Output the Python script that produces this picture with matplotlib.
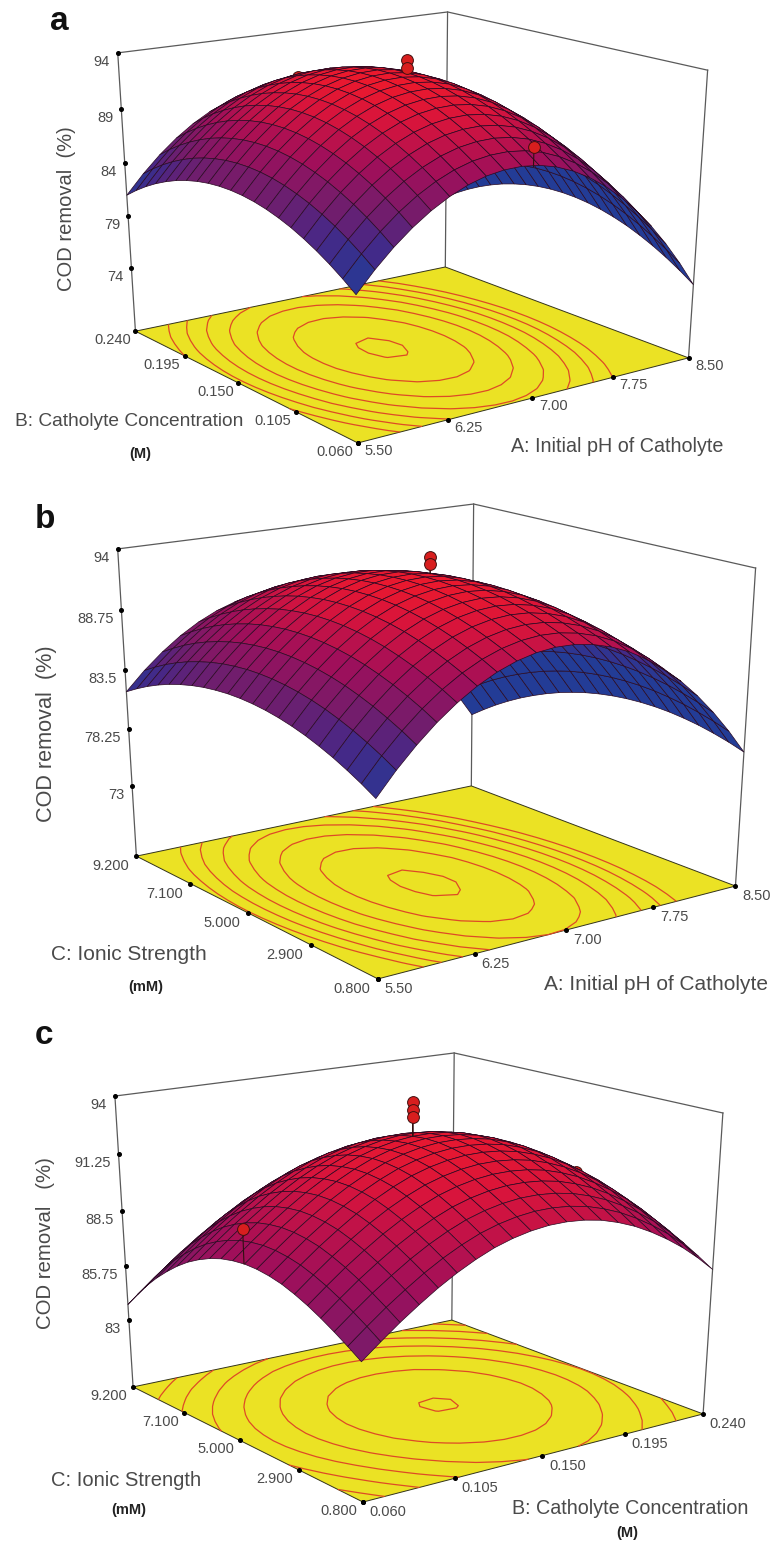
import numpy as np
import matplotlib
matplotlib.use("Agg")
import matplotlib.pyplot as plt
from matplotlib.colors import LinearSegmentedColormap, Normalize

W, H = 774, 1546

# tick values
ph_ticks = [5.50, 6.25, 7.00, 7.75, 8.50]
ph_labels = ["5.50", "6.25", "7.00", "7.75", "8.50"]
conc_ticks = [0.060, 0.105, 0.150, 0.195, 0.240]
conc_labels = ["0.060", "0.105", "0.150", "0.195", "0.240"]
ionic_ticks = [0.800, 2.900, 5.000, 7.100, 9.200]
ionic_labels = ["0.800", "2.900", "5.000", "7.100", "9.200"]
z_ticks_a = [74, 79, 84, 89, 94]
z_labels_a = ["74", "79", "84", "89", "94"]
z_ticks_b = [73, 78.25, 83.5, 88.75, 94]
z_labels_b = ["73", "78.25", "83.5", "88.75", "94"]
z_ticks_c = [83, 85.75, 88.5, 91.25, 94]
z_labels_c = ["83", "85.75", "88.5", "91.25", "94"]

# floor of the z axis, estimated from the tick spacing
z_floor_a, z_floor_b, z_floor_c = 67.8, 66.4, 79.5

# surface: peak, drop along each factor, corner twist
peak_a = 93.2
drop_a_x = [7.99, 6.25, 4.72, 3.41, 2.31, 1.43, 0.75, 0.29, 0.05, 0.01, 0.19,
            0.58, 1.19, 2.01, 3.04, 4.28, 5.74, 7.41, 9.29, 11.39, 13.70]
drop_a_y = [4.70, 3.83, 3.05, 2.36, 1.76, 1.24, 0.82, 0.48, 0.23, 0.07, 0.00,
            0.02, 0.13, 0.33, 0.62, 0.99, 1.46, 2.01, 2.65, 3.38, 4.20]
twist_a = 0.0

peak_b = 93.0
drop_b_x = [8.02, 6.27, 4.75, 3.43, 2.33, 1.44, 0.76, 0.30, 0.05, 0.01, 0.19,
            0.58, 1.16, 1.95, 2.95, 4.15, 5.56, 7.18, 9.01, 11.05, 13.30]
drop_b_y = [2.56, 1.99, 1.50, 1.07, 0.72, 0.43, 0.22, 0.08, 0.01, 0.01, 0.08,
            0.22, 0.44, 0.72, 1.08, 1.51, 2.00, 2.57, 3.21, 3.93, 4.71]
twist_b = -1.32

peak_c = 92.6
drop_c_x = [4.40, 3.70, 3.03, 2.42, 1.85, 1.35, 0.92, 0.56, 0.30, 0.12, 0.02,
            0.01, 0.08, 0.23, 0.48, 0.80, 1.21, 1.69, 2.24, 2.88, 3.60]
drop_c_y = [2.30, 1.87, 1.47, 1.10, 0.77, 0.49, 0.26, 0.11, 0.02, 0.00, 0.06,
            0.18, 0.38, 0.65, 0.98, 1.39, 1.87, 2.40, 3.00, 3.68, 4.40]
twist_c = 0.0

# contour levels on the floor
levels_a = [84.2, 85.7, 87.2, 88.7, 90.2, 91.7, 93.06]
levels_b = [85.1, 86.4, 87.7, 89.0, 90.3, 91.6, 92.8]
levels_c = [85.5, 86.7, 87.9, 89.05, 90.2, 91.4, 92.55]

# design points: x, y, z
front_a_x, front_a_y, front_a_z = [7.0, 7.0, 6.95], [0.15, 0.15, 0.06], [94.1, 93.4, 89.9]
back_a_x, back_a_y, back_a_z = [7.05], [0.24], [89.7]
front_b_x, front_b_y, front_b_z = [7.0, 7.0], [5.0, 5.0], [94.1, 93.5]
front_c_x, front_c_y, front_c_z = [0.15, 0.15, 0.15, 0.06], [5.0, 5.0, 5.0, 4.6], [94.1, 93.75, 93.4, 89.8]
back_c_x, back_c_y, back_c_z = [0.24], [5.0], [89.5]

# pixel corners of the box: front, right, left, back on the floor, then top left, back, right
box_a = [(358, 443), (688, 358), (135, 331), (446, 267), (118, 53), (447, 12), (708, 70)]
box_b = [(378, 979), (735, 886), (136, 856), (472, 786), (118, 549), (473, 504), (756, 568)]
box_c = [(363, 1502), (703, 1414), (133, 1387), (452, 1320), (115, 1096), (454, 1053), (723, 1113)]
unit_box = [(0, 0, 0), (1, 0, 0), (0, 1, 0), (1, 1, 0), (0, 1, 1), (1, 1, 1), (1, 0, 1)]

TEXT = "#4a4a4a"
LINE = "#5a5a5a"
SANS = "Liberation Sans"

surface_cmap = LinearSegmentedColormap.from_list("rsm", [
    (0.00, (35 / 255, 60 / 255, 150 / 255)),
    (0.23, (70 / 255, 40 / 255, 135 / 255)),
    (0.38, (110 / 255, 30 / 255, 110 / 255)),
    (0.62, (160 / 255, 15 / 255, 90 / 255)),
    (0.85, (215 / 255, 20 / 255, 60 / 255)),
    (1.00, (235 / 255, 25 / 255, 45 / 255))])
surface_norm = Normalize(81, 93)


def fit_camera(corners):
    rows = []
    for (u, v, w), (px, py) in zip(unit_box, corners):
        rows.append([u, v, w, 1, 0, 0, 0, 0, -px * u, -px * v, -px * w, -px])
        rows.append([0, 0, 0, 0, u, v, w, 1, -py * u, -py * v, -py * w, -py])
    P = np.linalg.svd(np.array(rows, dtype=float))[2][-1].reshape(3, 4)
    return P / (P[2] @ np.array([0.5, 0.5, 0.5, 1]))


def put_text(x, y, s, size, ha="center", **kw):
    kw.setdefault("family", SANS)
    kw.setdefault("color", TEXT)
    fig.text(x / W, 1 - y / H, s, fontsize=size, ha=ha, va="center", **kw)


def draw_panel(top, corners, xlim, ylim, z_floor, peak, drop_x, drop_y, twist, levels,
               xt, xl, yt, yl, zt, zl, off_x, off_y, points_front, points_back):
    ax = fig.add_axes([0, 1 - (top + W) / H, 1, W / H], projection="3d")
    ax.set_axis_off()
    ax.set_facecolor("none")
    ax.computed_zorder = False

    # data coords to unit box to pixels
    S = np.array([[1 / (xlim[1] - xlim[0]), 0, 0, -xlim[0] / (xlim[1] - xlim[0])],
                  [0, 1 / (ylim[1] - ylim[0]), 0, -ylim[0] / (ylim[1] - ylim[0])],
                  [0, 0, 1 / (94 - z_floor), -z_floor / (94 - z_floor)],
                  [0, 0, 0, 1]])
    P = fit_camera(corners) @ S

    def to_px(x, y, z):
        q = P @ np.array([x, y, z, np.ones_like(x)], dtype=float)
        return q[0] / q[2], q[1] / q[2]

    # pixels to the 2d view coords mplot3d expects
    inv = ax.transData.inverted()
    p0, p1 = inv.transform((0, 0)), inv.transform((W, H))
    kx, ky = (p1[0] - p0[0]) / W, (p1[1] - p0[1]) / H
    M = np.vstack([p0[0] * P[2] + kx * P[0],
                   (p0[1] + ky * H) * P[2] - ky * P[1],
                   [0, 0, 0, -1],
                   P[2]])
    ax.get_proj = lambda: M

    xs = np.linspace(xlim[0], xlim[1], 21)
    ys = np.linspace(ylim[0], ylim[1], 21)
    X, Y = np.meshgrid(xs, ys, indexing="ij")
    cross = np.outer(np.linspace(-1, 1, 21), np.linspace(-1, 1, 21))
    Z = peak - np.array(drop_x)[:, None] - np.array(drop_y)[None, :] + twist * cross

    # box
    x0, x1, y0, y1 = xlim[0], xlim[1], ylim[0], ylim[1]
    for bx, by in [(x0, y1), (x1, y1), (x1, y0)]:
        ax.plot([bx, bx], [by, by], [z_floor, 94], color=LINE, lw=0.9, zorder=1)
    ax.plot([x0, x1, x1], [y1, y1, y0], [94, 94, 94], color=LINE, lw=0.9, zorder=1)

    # yellow floor with contours
    fx, fy = np.meshgrid([x0, x1], [y0, y1], indexing="ij")
    ax.plot_surface(fx, fy, np.full_like(fx, z_floor), color="#ebe224", shade=False,
                    edgecolor="none", linewidth=0, zorder=2)
    ax.plot([x0, x1, x1, x0, x0], [y0, y0, y1, y1, y0], [z_floor] * 5, color="#33331a", lw=0.7, zorder=3)
    ax.contour(X, Y, Z, levels=levels, zdir="z", offset=z_floor, colors="#de4a26",
               linewidths=0.9, zorder=3)

    # ticks
    ax.plot(xt, [y0] * 5, [z_floor] * 5, "o", color="k", ms=2.6, zorder=4)
    ax.plot([x0] * 5, yt, [z_floor] * 5, "o", color="k", ms=2.6, zorder=4)
    ax.plot([x0] * 5, [y1] * 5, zt, "o", color="k", ms=2.6, zorder=4)

    def draw_points(pts, order):
        for x, y, z in zip(*pts):
            i = np.abs(xs - x).argmin()
            j = np.abs(ys - y).argmin()
            ax.plot([x, x], [y, y], [Z[i, j], z], color="#301010", lw=0.8, zorder=order)
        ax.plot(pts[0], pts[1], pts[2], "o", color="#d81e1e", mec="#401010", mew=0.7, ms=8.5, zorder=order)

    if points_back:
        draw_points(points_back, 5)

    # surface, facets turned away from the viewer get the bluer underside colour
    px, py = to_px(X.ravel(), Y.ravel(), Z.ravel())
    px, py = px.reshape(X.shape), py.reshape(X.shape)
    d1x, d1y = px[1:, 1:] - px[:-1, :-1], py[1:, 1:] - py[:-1, :-1]
    d2x, d2y = px[:-1, 1:] - px[1:, :-1], py[:-1, 1:] - py[1:, :-1]
    area = d1x * d2y - d1y * d2x
    fpx, fpy = to_px(np.array([x0, x1, x0, x1]), np.array([y0, y0, y1, y1]),
                     np.full(4, z_floor))
    floor_sign = np.sign((fpx[3] - fpx[0]) * (fpy[2] - fpy[1]) - (fpy[3] - fpy[0]) * (fpx[2] - fpx[1]))
    zc = (Z[1:, 1:] + Z[:-1, :-1] + Z[1:, :-1] + Z[:-1, 1:]) / 4
    under = area * floor_sign < 0
    colors = surface_cmap(surface_norm(np.where(under, zc - 3, zc)))
    surf = ax.plot_surface(X, Y, Z, facecolors=colors, rstride=1, cstride=1, shade=False, zorder=6)
    surf.set_edgecolor("#2a0a22")
    surf.set_linewidth(0.5)

    if points_front:
        draw_points(points_front, 7)

    # tick labels
    tx, ty = to_px(np.array(xt), np.full(5, y0), np.full(5, z_floor))
    for a, b, s in zip(tx, ty, xl):
        put_text(a + off_x[0], b + off_x[1], s, 10.5)
    tx, ty = to_px(np.full(5, x0), np.array(yt), np.full(5, z_floor))
    for a, b, s in zip(tx, ty, yl):
        put_text(a + off_y[0], b + off_y[1], s, 10.5)
    tx, ty = to_px(np.full(5, x0), np.full(5, y1), np.array(zt, dtype=float))
    for a, b, s in zip(tx, ty, zl):
        put_text(a - 8, b + 9, s, 10.5, ha="right")
    return ax


fig = plt.figure(figsize=(W / 100, H / 100), dpi=100, facecolor="white")

draw_panel(0, box_a, (5.5, 8.5), (0.06, 0.24), z_floor_a, peak_a, drop_a_x, drop_a_y, twist_a, levels_a,
           ph_ticks, ph_labels, conc_ticks, conc_labels, z_ticks_a, z_labels_a, (21, 8), (-23, 9),
           (front_a_x, front_a_y, front_a_z), (back_a_x, back_a_y, back_a_z))
draw_panel(490, box_b, (5.5, 8.5), (0.8, 9.2), z_floor_b, peak_b, drop_b_x, drop_b_y, twist_b, levels_b,
           ph_ticks, ph_labels, ionic_ticks, ionic_labels, z_ticks_b, z_labels_b, (21, 10), (-26, 10),
           (front_b_x, front_b_y, front_b_z), None)
draw_panel(772, box_c, (0.06, 0.24), (0.8, 9.2), z_floor_c, peak_c, drop_c_x, drop_c_y, twist_c, levels_c,
           conc_ticks, conc_labels, ionic_ticks, ionic_labels, z_ticks_c, z_labels_c, (25, 10), (-24, 9),
           (front_c_x, front_c_y, front_c_z), (back_c_x, back_c_y, back_c_z))

# panel letters
bold = dict(color="#111111", fontweight="bold")
put_text(59, 21, "a", 24, **bold)
put_text(45, 520, "b", 24, **bold)
put_text(44, 1036, "c", 24, **bold)

# axis titles
put_text(129, 421, "B: Catholyte Concentration", 13.8)
put_text(617, 446, "A: Initial pH of Catholyte", 14.2)
put_text(129, 955, "C: Ionic Strength", 15)
put_text(656, 984, "A: Initial pH of Catholyte", 15)
put_text(126, 1480, "C: Ionic Strength", 14.5)
put_text(630, 1508, "B: Catholyte Concentration", 14.2)

small = dict(color="#222222", fontweight="bold")
put_text(140, 454, "(M)", 10.5, **small)
put_text(146, 987, "(mM)", 10.5, **small)
put_text(129, 1510, "(mM)", 10.5, **small)
put_text(627, 1533, "(M)", 10.5, **small)

put_text(66, 209, "COD removal  (%)", 14.5, rotation=90)
put_text(47, 734, "COD removal  (%)", 15.6, rotation=90)
put_text(46, 1243, "COD removal   (%)", 14.7, rotation=90)

fig.savefig("out.png", dpi=100)
